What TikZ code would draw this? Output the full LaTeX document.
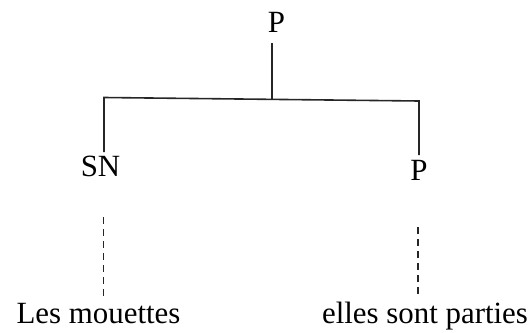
\documentclass[tikz,border=0pt]{standalone}
\usepackage{fontspec}
\setmainfont{Liberation Serif}
\begin{document}
\begin{tikzpicture}[x=1bp,y=1bp,
  lbl/.style={anchor=base,inner sep=0pt,font=\fontsize{31}{36}\selectfont},
  branch/.style={line width=1.6bp,black!85},
  dotted link/.style={line width=1.6bp,black!85,dash pattern=on 7bp off 5bp}]
\useasboundingbox (0,0) rectangle (532,332);
\node[lbl] (P0) at (276.5,300) {P};
\node[lbl] (SN) at (100.5,156) {SN};
\node[lbl] (P1) at (419,152) {P};
\node[lbl] (W1) at (98.5,9) {Les mouettes};
\node[lbl] (W2) at (425,9) {elles sont parties};
\coordinate (top) at (272,289);
\coordinate (mid) at (272,233);
\coordinate (L) at (104,234.5);
\coordinate (R) at (419,231);
\coordinate (Lend) at (104,180);
\coordinate (Rend) at (419,177);
\coordinate (Ldt) at (103.5,115);
\coordinate (Ldb) at (103.5,35);
\coordinate (Rdt) at (418,105);
\coordinate (Rdb) at (418,35);
\draw[branch] (top) -- (mid);
\draw[branch] (Lend) -- (L) -- (R) -- (Rend);
\draw[dotted link] (Ldt) -- (Ldb);
\draw[dotted link] (Rdt) -- (Rdb);
\end{tikzpicture}
\end{document}
